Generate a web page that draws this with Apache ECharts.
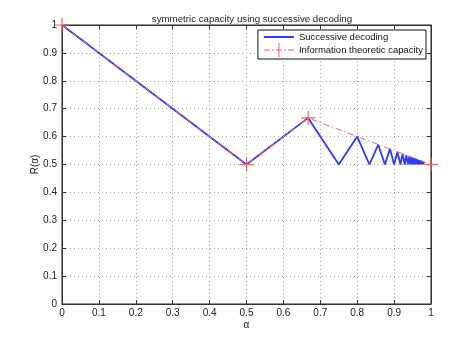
<!DOCTYPE html>
<html>
<head>
<meta charset="utf-8">
<script src="https://cdn.jsdelivr.net/npm/echarts@6/dist/echarts.min.js"></script>
<style>
html, body { margin: 0; padding: 0; background: #fff; }
#chart { width: 476px; height: 342px; }
</style>
</head>
<body>
<div id="chart"></div>
<script>
// successive decoding: alpha / rate pairs
const sdAlpha = [0, 0.5, 0.667, 0.75, 0.8, 0.833, 0.857, 0.875, 0.889, 0.9, 0.909, 0.917,
    0.923, 0.929, 0.933, 0.938, 0.941, 0.944, 0.947, 0.95, 0.952, 0.955, 0.957, 0.958,
    0.96, 0.962, 0.963, 0.964, 0.966, 0.967, 0.968, 0.969, 0.97, 0.971, 0.972, 0.973,
    0.974, 0.975, 0.976, 0.977, 0.978, 0.979, 0.98];
const sdRate = [1, 0.5, 0.667, 0.5, 0.6, 0.5, 0.571, 0.5, 0.556, 0.5, 0.545, 0.5,
    0.538, 0.5, 0.533, 0.5, 0.529, 0.5, 0.526, 0.5, 0.524, 0.5, 0.522, 0.5,
    0.52, 0.5, 0.519, 0.5, 0.517, 0.5, 0.516, 0.5, 0.515, 0.5, 0.514, 0.5,
    0.513, 0.5, 0.512, 0.5, 0.511, 0.5, 0.51];

// information theoretic capacity corner points
const capAlpha = [0, 0.5, 0.667, 1];
const capRate = [1, 0.5, 0.667, 0.5];

const tickValues = [0, 0.1, 0.2, 0.3, 0.4, 0.5, 0.6, 0.7, 0.8, 0.9, 1];

const sdData = sdAlpha.map((a, i) => [a, sdRate[i]]);
const capData = capAlpha.map((a, i) => [a, capRate[i]]);

const plusPath = 'path://M0,4.6h10v0.8h-10z M4.6,0h0.8v10h-0.8z';
const legendRedIcon = 'path://M0,6.5h6v1h-6z M8,6.5h2v1h-2z M12,6.5h6v1h-6z M14.5,0h1v14h-1z M20,6.5h2v1h-2z M24,6.5h6v1h-6z';
const legendBlueIcon = 'path://M0,6h30v2h-30z';

const font = 'Liberation Sans, Arial, sans-serif';

const chart = echarts.init(document.getElementById('chart'));

const tickFmt = v => {
    const r = Math.round(v * 10) / 10;
    return tickValues.indexOf(r) >= 0 ? String(r) : '';
};

const baseAxis = {
    type: 'value',
    min: 0,
    max: 1,
    interval: 0.1,
    axisLine: { show: true, onZero: false, lineStyle: { color: '#333', width: 1 } },
    axisTick: { show: true, inside: true, length: 4, lineStyle: { color: '#333' } },
    splitLine: { show: false }
};

chart.setOption({
    animation: false,
    backgroundColor: '#fff',
    title: {
        text: 'symmetric capacity using successive decoding',
        left: 247,
        top: 9,
        textAlign: 'center',
        textStyle: { fontFamily: font, fontSize: 9.7, fontWeight: 'normal', color: '#222' }
    },
    grid: {
        left: 62, right: 45, top: 25, bottom: 38,
        show: true, borderColor: '#222', borderWidth: 1, backgroundColor: '#fff'
    },
    legend: {
        orient: 'vertical',
        right: 50,
        top: 30,
        padding: [2, 3, 2, 6],
        itemGap: 1,
        itemWidth: 30,
        itemHeight: 14,
        borderColor: '#111',
        borderWidth: 1,
        backgroundColor: '#fff',
        textStyle: { fontFamily: font, fontSize: 9.5, color: '#111' },
        data: [
            { name: 'Successive decoding', icon: legendBlueIcon, itemStyle: { color: '#2a3cff' } },
            { name: 'Information theoretic capacity', icon: legendRedIcon, itemStyle: { color: '#ff6060' } }
        ]
    },
    xAxis: [
        Object.assign({}, baseAxis, {
            position: 'bottom',
            name: 'α',
            nameLocation: 'middle',
            nameGap: 16,
            nameMoveOverlap: false,
            nameTextStyle: { fontFamily: font, fontSize: 10, color: '#222' },
            axisLabel: { fontFamily: font, fontSize: 10, color: '#222', margin: 4, formatter: tickFmt },
            splitLine: { show: true, lineStyle: { color: '#aaa', type: [1, 3], width: 1 } }
        }),
        Object.assign({}, baseAxis, { position: 'top', axisLabel: { show: false } })
    ],
    yAxis: [
        Object.assign({}, baseAxis, {
            position: 'left',
            name: 'R(α)',
            nameLocation: 'middle',
            nameGap: 22,
            nameMoveOverlap: false,
            nameTextStyle: { fontFamily: font, fontSize: 10, color: '#222' },
            axisLabel: { fontFamily: font, fontSize: 10, color: '#222', margin: 5, formatter: tickFmt },
            splitLine: { show: true, lineStyle: { color: '#aaa', type: [1, 3], width: 1 } }
        }),
        Object.assign({}, baseAxis, { position: 'right', axisLabel: { show: false } })
    ],
    series: [
        {
            name: 'Successive decoding',
            type: 'line',
            data: sdData,
            symbol: 'none',
            lineStyle: { color: '#2a3cff', width: 1.8 },
            z: 2
        },
        {
            name: 'Information theoretic capacity',
            type: 'line',
            data: capData,
            clip: false,
            symbol: plusPath,
            symbolSize: 14,
            itemStyle: { color: '#ff5a5a' },
            lineStyle: { color: '#ff6060', width: 1, type: [6, 3, 1, 3] },
            z: 3
        }
    ]
});
</script>
</body>
</html>
